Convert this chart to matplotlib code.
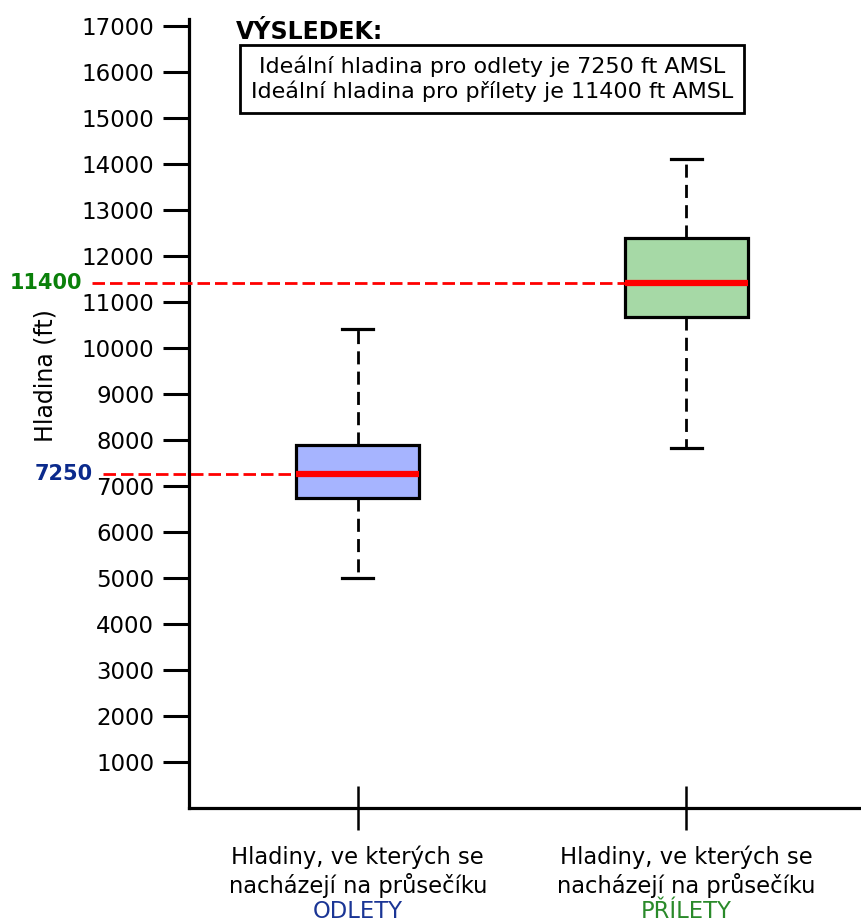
import matplotlib
matplotlib.use("Agg")
import matplotlib.pyplot as plt
from matplotlib import transforms

# Flight levels found at crossing points (ft AMSL)
groups = ["ODLETY", "PŘÍLETY"]
whisker_low = [5000, 7830]
q1 = [6730, 10680]
median = [7250, 11400]
q3 = [7880, 12380]
whisker_high = [10400, 14100]

y_ticks = list(range(1000, 17001, 1000))
tick_text = "Hladiny, ve kterých se\nnacházejí na průsečíku"
group_colors = ["#1a3595", "#2a8a2a"]
fill_colors = ["#a6b4ff", "#a6d9a6"]
value_colors = ["#0b2a8c", "#0a800a"]

plt.rcParams["font.family"] = ["DejaVu Sans"]

fig = plt.figure(figsize=(8.62, 9.22), dpi=100)
ax = fig.add_axes([189 / 862, 1 - 808 / 922, 1 - 189 / 862, (808 - 19.3) / 922])

positions = [1, 2]
box_width = 0.375
stats = []
for i in range(len(groups)):
    stats.append(dict(whislo=whisker_low[i], q1=q1[i], med=median[i], q3=q3[i],
                      whishi=whisker_high[i], fliers=[], label=groups[i]))

bp = ax.bxp(stats, positions=positions, widths=box_width, patch_artist=True,
            showfliers=False,
            boxprops=dict(edgecolor="black", linewidth=2.3),
            medianprops=dict(color="red", linewidth=4.5, solid_capstyle="butt"),
            whiskerprops=dict(color="black", linewidth=2.0, dashes=(4.7, 2.6)),
            capprops=dict(color="black", linewidth=2.3),
            capwidths=0.095)
for patch, fc in zip(bp["boxes"], fill_colors):
    patch.set_facecolor(fc)
for m in bp["medians"]:
    m.set_zorder(4)

xlim = (0.486, 2.535)
ax.set_xlim(*xlim)
ax.set_ylim(0, 17140)

# dashed guide lines from the value labels to each box
line_starts_px = [103, 92]
for i in range(len(groups)):
    x0 = xlim[0] + (line_starts_px[i] - 189) / 328.5
    x1 = positions[i] - box_width / 2
    ax.plot([x0, x1], [median[i], median[i]], color="red", linewidth=2.0,
            dashes=(4.5, 1.8), clip_on=False, zorder=3)

trans = transforms.blended_transform_factory(ax.transAxes, ax.transData)
label_right_px = [93, 82]
for i in range(len(groups)):
    ax.text((label_right_px[i] - 189) / 673, median[i], f"{median[i]}",
            transform=trans, ha="right", va="center", fontsize=15,
            fontweight="bold", color=value_colors[i])

ax.set_yticks(y_ticks)
ax.set_yticklabels([str(v) for v in y_ticks], fontsize=16.5)
ax.tick_params(axis="y", direction="out", length=19, width=2.2, pad=6)

ax.set_xticks(positions)
ax.set_xticklabels([""] * len(positions))
ax.tick_params(axis="x", direction="inout", length=31, width=1.8)

for side in ["top", "right"]:
    ax.spines[side].set_visible(False)
for side in ["left", "bottom"]:
    ax.spines[side].set_linewidth(2.3)

# category labels below the axis, last line colored per group
xtrans = transforms.blended_transform_factory(ax.transData, fig.transFigure)
for i in range(len(groups)):
    ax.text(positions[i], 1 - 871.5 / 922, tick_text, transform=xtrans,
            ha="center", va="center", fontsize=16.3, linespacing=1.2)
    ax.text(positions[i], 1 - 911 / 922, groups[i], transform=xtrans,
            ha="center", va="center", fontsize=16.3, color=group_colors[i])

ax.set_ylabel("Hladina (ft)", fontsize=17)
ax.yaxis.set_label_coords((58 - 189) / 673, (808 - 376) / 788.7)

fig.text(236 / 862, 1 - 32 / 922, "VÝSLEDEK:", ha="left", va="center",
         fontsize=17, fontweight="bold")
fig.text(492 / 862, 1 - 79 / 922,
         "Ideální hladina pro odlety je 7250 ft AMSL\nIdeální hladina pro přílety je 11400 ft AMSL",
         ha="center", va="center", fontsize=16, linespacing=1.2,
         bbox=dict(boxstyle="square,pad=0.5", facecolor="white",
                   edgecolor="black", linewidth=2.0))

fig.savefig("out.png", dpi=100)
